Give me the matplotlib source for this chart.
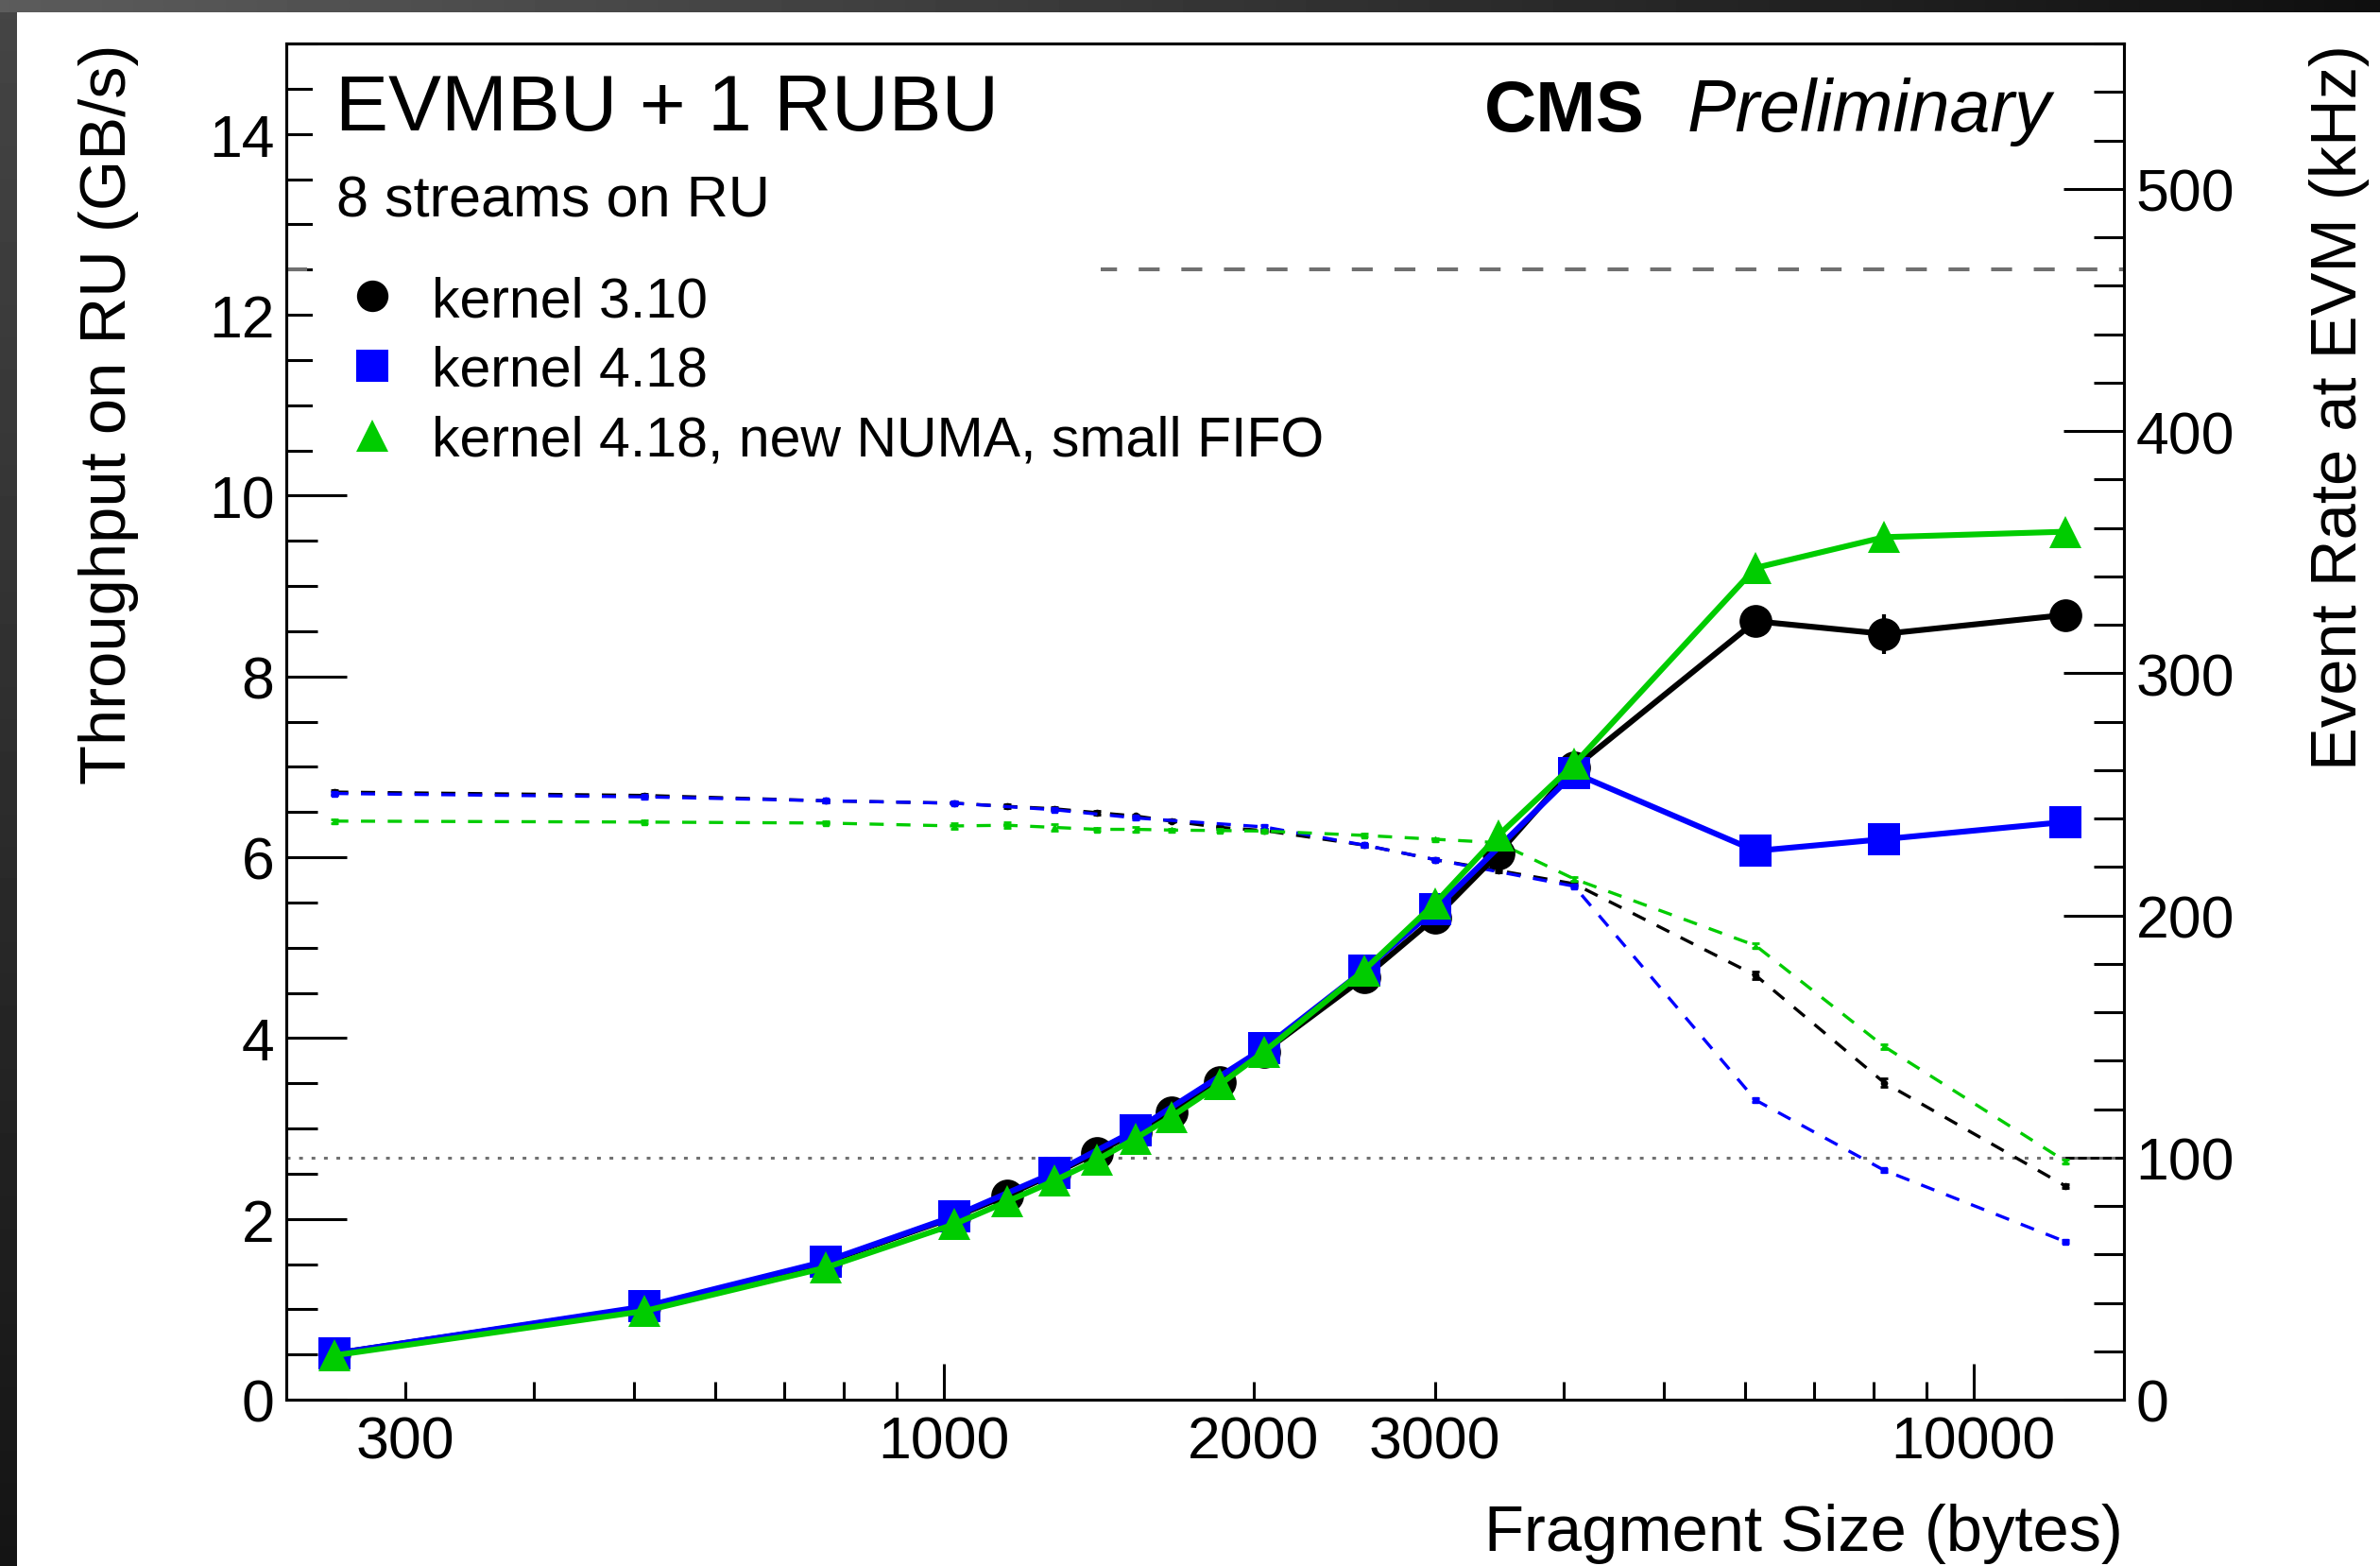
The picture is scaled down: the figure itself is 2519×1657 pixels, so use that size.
import numpy as np
import matplotlib
matplotlib.use("Agg")
import matplotlib.pyplot as plt
from matplotlib.ticker import FixedLocator, FuncFormatter
from matplotlib.lines import Line2D
from matplotlib.patches import Rectangle

plt.rcParams['font.family'] = ['Liberation Sans', 'DejaVu Sans']

# ---------------- data ----------------
# kernel 3.10 (black circles)
size_310 = [256, 512, 768, 1024, 1152, 1280, 1408, 1536, 1664, 1856, 2048,
            2560, 3000, 3456, 4096, 6144, 8192, 12288]
thr_310 = [0.51, 1.02, 1.52, 2.02, 2.26, 2.50, 2.73, 2.96, 3.18, 3.51, 3.85,
           4.67, 5.33, 6.04, 6.99, 8.61, 8.47, 8.68]
thr_310_err = [0, 0, 0, 0, 0, 0, 0, 0, 0, 0, 0, 0, 0, 0, 0, 0.03, 0.22, 0.02]
rate_310 = [250.9, 249.5, 247.3, 246.3, 245.0, 244.0, 242.4, 241.0, 238.9,
            236.3, 235.0, 229.0, 223.0, 218.5, 213.0, 175.2, 130.9, 88.2]
rate_310_err = [1.0, 0.6, 0.6, 0.6, 0.8, 0.6, 0.8, 0.6, 0.6, 0.6, 0.6, 0.6,
                0.6, 0.6, 0.8, 1.5, 1.8, 0.8]

# kernel 4.18 (blue squares)
size_418 = [256, 512, 768, 1024, 1280, 1536, 2048, 2560, 3000, 4096,
            6144, 8192, 12288]
thr_418 = [0.51, 1.03, 1.53, 2.03, 2.51, 2.98, 3.89, 4.75, 5.42, 6.93,
           6.07, 6.20, 6.39]
rate_418 = [250.3, 248.9, 247.3, 246.3, 243.6, 240.2, 236.5, 229.0, 223.0,
            212.0, 123.7, 94.7, 65.2]
rate_418_err = [0.6] * 13

# kernel 4.18, new NUMA, small FIFO (green triangles)
size_new = [256, 512, 768, 1024, 1152, 1280, 1408, 1536, 1664, 1856, 2048,
            2560, 3000, 3456, 4096, 6144, 8192, 12288]
thr_new = [0.49, 0.98, 1.46, 1.94, 2.19, 2.42, 2.65, 2.89, 3.13, 3.49, 3.85,
           4.75, 5.49, 6.24, 7.03, 9.20, 9.54, 9.60]
rate_new = [238.9, 238.5, 238.1, 236.9, 237.2, 236.3, 235.5, 235.5, 235.2,
            235.0, 234.8, 233.0, 231.4, 230.0, 215.0, 187.5, 145.8, 98.4]
rate_new_err = [0.8, 0.6, 0.6, 1.0, 1.2, 1.2, 0.6, 1.0, 0.6, 0.6, 0.6, 0.6,
                0.6, 0.6, 0.8, 1.0, 1.0, 0.8]

ref_thr = 12.5   # GB/s (100 Gb/s)
ref_rate = 100   # kHz

labels = ["kernel 3.10", "kernel 4.18", "kernel 4.18, new NUMA, small FIFO"]

x_major = [1000, 10000]
x_minor = [300, 400, 500, 600, 700, 800, 900,
           2000, 3000, 4000, 5000, 6000, 7000, 8000, 9000]
x_minor_labeled = [300, 2000, 3000]

# ---------------- figure ----------------
W, H, DPI = 2519, 1658, 100
fig = plt.figure(figsize=(W / DPI, H / DPI), dpi=DPI, facecolor='white')

# dark slide border
bg = fig.add_axes([0, 0, 1, 1], zorder=-10)
bg.imshow(np.linspace(0.36, 0.06, 256)[None, :], cmap='gray', vmin=0, vmax=1,
          extent=[0, W, 14, 0], aspect='auto', interpolation='bilinear')
bg.imshow(np.linspace(0.27, 0.08, 256)[:, None], cmap='gray', vmin=0, vmax=1,
          extent=[0, 18, H, 14], aspect='auto', interpolation='bilinear')
bg.set_xlim(0, W)
bg.set_ylim(H, 0)
bg.axis('off')

L, R, T, B = 303, 2248, 47, 1482
ax = fig.add_axes([L / W, 1 - B / H, (R - L) / W, (B - T) / H])
ax2 = ax.twinx()
ax.set_zorder(ax2.get_zorder() + 1)
ax.patch.set_visible(False)

ax.set_xscale('log')
ax.set_xlim(230, 14000)
ax.set_ylim(0, 15)
ax2.set_ylim(0, 560)

BLACK, BLUE, GREEN = '#000000', '#0000ff', '#00cc00'

# rate curves (dashed, right axis)
dkw = dict(lw=2.4, dashes=(4.5, 4.0), ms=4.5, elinewidth=2.0, capsize=3,
           capthick=2.0)
ax2.errorbar(size_310, rate_310, yerr=rate_310_err, color=BLACK, marker='o',
             zorder=3, **dkw)
ax2.errorbar(size_418, rate_418, yerr=rate_418_err, color=BLUE, marker='s',
             zorder=4, **dkw)
ax2.errorbar(size_new, rate_new, yerr=rate_new_err, color=GREEN, marker='^',
             zorder=5, **dkw)
ax2.axhline(ref_rate, color='#707070', lw=2.2, dashes=(1.3, 3.0), zorder=2)

# throughput curves (solid, left axis)
skw = dict(lw=4.4, ms=25, mew=0, elinewidth=3, capsize=5, capthick=3)
ax.errorbar(size_310, thr_310, yerr=thr_310_err, color=BLACK, marker='o',
            zorder=3, **skw)
ax.errorbar(size_418, thr_418, color=BLUE, marker='s', zorder=4, **skw)
ax.errorbar(size_new, thr_new, color=GREEN, marker='^', zorder=5, **skw)
ax.axhline(ref_thr, color='#707070', lw=2.9, dashes=(5.5, 5.7), zorder=2)

# white legend pad (hides ticks / reference line underneath, as in the original)
ax.add_patch(Rectangle((331 / W, 1 - 492 / H), (1165 - 331) / W,
                       (492 - 55) / H, transform=fig.transFigure,
                       facecolor='white', edgecolor='none', zorder=2.6))

# ticks
ax.xaxis.set_major_locator(FixedLocator(x_major))
ax.xaxis.set_minor_locator(FixedLocator(x_minor))
ax.xaxis.set_major_formatter(FuncFormatter(lambda v, p: f"{v:.0f}"))
ax.xaxis.set_minor_formatter(FuncFormatter(
    lambda v, p: f"{v:.0f}" if round(v) in x_minor_labeled else ""))
ax.tick_params(axis='x', which='major', direction='in', length=27.4, width=2.2,
               labelsize=45, pad=11, top=False)
ax.tick_params(axis='x', which='minor', direction='in', length=13.7, width=2.2,
               labelsize=45, pad=11, top=False)

ax.yaxis.set_major_locator(FixedLocator(np.arange(0, 15, 2)))
ax.yaxis.set_minor_locator(FixedLocator(np.arange(0, 15.01, 0.5)))
ax.tick_params(axis='y', which='major', direction='in', length=46, width=2.2,
               labelsize=45, pad=9, left=True, right=False)
ax.tick_params(axis='y', which='minor', direction='in', length=23.5,
               width=2.2, left=True, right=False)

ax2.yaxis.set_major_locator(FixedLocator(np.arange(0, 501, 100)))
ax2.yaxis.set_minor_locator(FixedLocator(np.arange(0, 561, 20)))
ax2.tick_params(axis='y', which='major', direction='in', length=46, width=2.2,
                labelsize=45, pad=9, left=False, right=True)
ax2.tick_params(axis='y', which='minor', direction='in', length=23, width=2.2,
                left=False, right=True)

for a in (ax, ax2):
    for s in a.spines.values():
        s.set_linewidth(2.2)

# axis titles
fig.text(115 / W, 1 - 47 / H, "Throughput on RU (GB/s)", rotation=90,
         ha='center', va='top', fontsize=49.5)
fig.text(2476 / W, 1 - 47 / H, "Event Rate at EVM (kHz)", rotation=90,
         ha='center', va='top', fontsize=49.5)
fig.text(2247 / W, 1 - 1641 / H, "Fragment Size (bytes)", ha='right',
         va='baseline', fontsize=49.5)

# annotations
fig.text(355 / W, 1 - 138 / H, "EVMBU + 1 RUBU", fontsize=60.5, va='baseline')
fig.text(356 / W, 1 - 229 / H, "8 streams on RU", fontsize=44,
         va='baseline')
fig.text(1571 / W, 1 - 139 / H, "CMS", fontsize=55, fontweight='bold',
         va='baseline')
fig.text(1786 / W, 1 - 139 / H, "Preliminary", fontsize=55.5, style='italic',
         va='baseline')

# legend
handles = [Line2D([], [], ls='none', marker='o', color=BLACK, ms=24, mew=0),
           Line2D([], [], ls='none', marker='s', color=BLUE, ms=24, mew=0),
           Line2D([], [], ls='none', marker='^', color=GREEN, ms=24, mew=0)]
leg = ax.legend(handles, labels, loc='upper left',
                bbox_to_anchor=(367 / W, 1 - 292 / H),
                bbox_transform=fig.transFigure, frameon=False, fontsize=42.5,
                handlelength=0.92, handletextpad=0.6, labelspacing=0.32,
                borderpad=0, borderaxespad=0)
leg.set_zorder(6)

fig.savefig("out.png", dpi=DPI, facecolor='white')
